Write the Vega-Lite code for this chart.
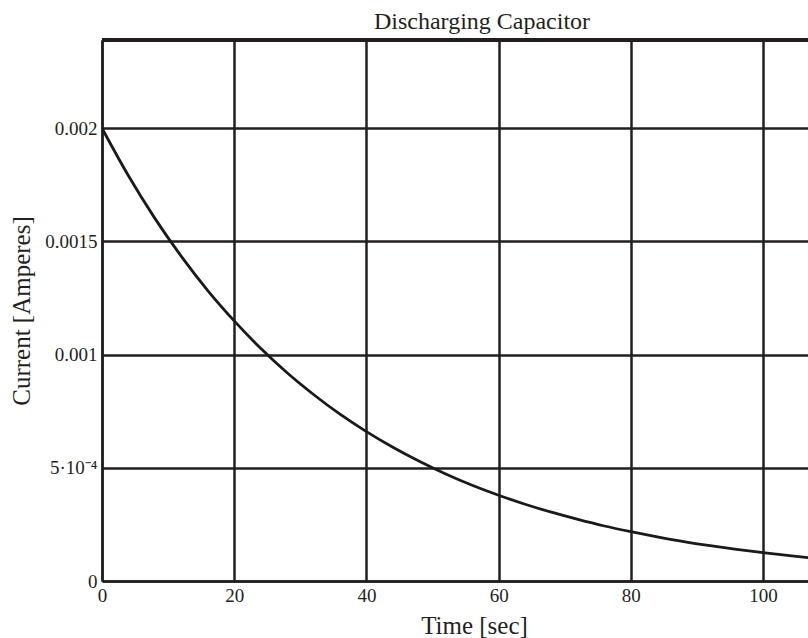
{
  "$schema": "https://vega.github.io/schema/vega-lite/v6.json",
  "autosize": "none",
  "width": 706,
  "height": 541,
  "padding": {"left": 102, "top": 40, "right": 0, "bottom": 57},
  "background": "white",
  "config": {
    "view": {"stroke": null},
    "font": "Liberation Serif",
    "axis": {"labelFont": "Liberation Serif", "titleFont": "Liberation Serif", "labelColor": "#231f20", "titleColor": "#231f20", "titleFontWeight": "normal"}
  },
  "title": {"text": "Discharging Capacitor", "font": "Liberation Serif", "fontSize": 24, "fontWeight": "normal", "color": "#231f20", "dx": 27, "offset": 5},
  "data": {"values": [
    {"t": 0, "I": 0.002},
    {"t": 4, "I": 0.00179},
    {"t": 8, "I": 0.001602},
    {"t": 12, "I": 0.001434},
    {"t": 16, "I": 0.001283},
    {"t": 20, "I": 0.001149},
    {"t": 24, "I": 0.001028},
    {"t": 28, "I": 0.00092},
    {"t": 32, "I": 0.000824},
    {"t": 36, "I": 0.000737},
    {"t": 40, "I": 0.00066},
    {"t": 44, "I": 0.000591},
    {"t": 48, "I": 0.000529},
    {"t": 52, "I": 0.000473},
    {"t": 56, "I": 0.000423},
    {"t": 60, "I": 0.000379},
    {"t": 64, "I": 0.000339},
    {"t": 68, "I": 0.000304},
    {"t": 72, "I": 0.000272},
    {"t": 76, "I": 0.000243},
    {"t": 80, "I": 0.000218},
    {"t": 84, "I": 0.000195},
    {"t": 88, "I": 0.000174},
    {"t": 92, "I": 0.000156},
    {"t": 96, "I": 0.00014},
    {"t": 100, "I": 0.000125},
    {"t": 104, "I": 0.000112},
    {"t": 108, "I": 0.0001}
  ]},
  "layer": [
    {
      "mark": {"type": "rule", "color": "#231f20", "strokeWidth": 2.5},
      "encoding": {"y": {"datum": 0.00239, "type": "quantitative"}}
    },
    {
      "mark": {"type": "line", "color": "#1a1a1a", "strokeWidth": 2.8, "interpolate": "monotone", "clip": true},
      "encoding": {
        "x": {"field": "t", "type": "quantitative",
          "scale": {"domain": [0, 106.8], "nice": false, "zero": false},
          "axis": {"title": "Time [sec]", "titleFontSize": 25, "titleX": 372, "titlePadding": 8,
            "values": [0, 20, 40, 60, 80, 100], "labelFontSize": 19, "labelPadding": 5, "labelDx": 5,
            "ticks": false, "grid": true, "gridColor": "#231f20", "gridWidth": 2.5, "gridOpacity": 1,
            "domainColor": "#231f20", "domainWidth": 2.5, "labelFlush": false}},
        "y": {"field": "I", "type": "quantitative",
          "scale": {"domain": [0, 0.00239], "nice": false},
          "axis": {"title": "Current [Amperes]", "titleFontSize": 25, "titlePadding": 10,
            "values": [0, 0.0005, 0.001, 0.0015, 0.002], "format": "~g",
            "labelExpr": "datum.value > 0.0004 && datum.value < 0.0006 ? '5·10⁻⁴' : datum.label",
            "labelFontSize": 19, "labelPadding": 5, "ticks": false, "grid": true,
            "gridColor": "#231f20", "gridWidth": 2.5, "gridOpacity": 1,
            "domainColor": "#231f20", "domainWidth": 2.5, "labelFlush": false}}
      }
    }
  ]
}
